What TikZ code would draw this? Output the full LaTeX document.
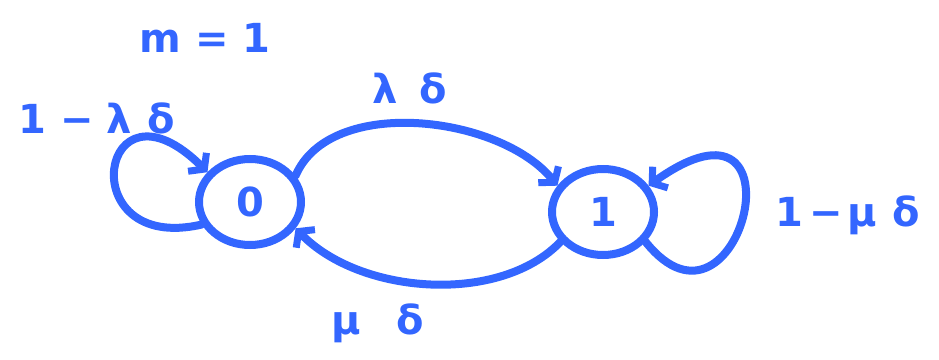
\documentclass[tikz,border=0pt]{standalone}
\usepackage{fontspec}
\setmainfont{DejaVu Sans}
\usetikzlibrary{arrows.meta,shapes.geometric}
\definecolor{pen}{HTML}{3366FF}
\tikzset{
  state/.style={draw=pen, line width=8pt, ellipse, minimum width=102pt, minimum height=86pt, inner sep=0pt, text=pen, font=\fontsize{40}{44}\selectfont\bfseries},
  edge/.style={draw=pen, line width=8pt, line cap=round, -{Straight Barb[length=10pt,width=26pt,line width=7pt]}},
  lbl/.style={text=pen, font=\fontsize{40}{46}\selectfont\bfseries, inner sep=0pt}
}
\begin{document}
\begin{tikzpicture}[x=1pt,y=-1pt]
\useasboundingbox (0,0) rectangle (939,359);
\node[state] (n0) at (250,202) {0};
\node[state] (n1) at (603,212) {1};
\draw[edge] (n0.30) .. controls (330,95) and (500,115) .. (n1.150);
\draw[edge] (n1.215) .. controls (500,305) and (360,295) .. (n0.-30);
\draw[edge] (n0.205) .. controls (70,255) and (100,65) .. (n0.145);
\draw[edge] (n1.-35) .. controls (740,360) and (810,70) .. (n1.30);
\node[lbl] (m) at (205,38) {m\hspace{14pt}=\hspace{14pt}1};
\node[lbl] (l0) at (97,118) {1\hspace{14pt}−\hspace{12pt}λ\hspace{16pt}δ};
\node[lbl] (l01) at (410,88) {λ\hspace{22pt}δ};
\node[lbl] (l1) at (848,215) {1\hspace{6pt}−\hspace{4pt}μ\hspace{16pt}δ};
\node[lbl] (l10) at (378,323) {μ\hspace{36pt}δ};
\end{tikzpicture}
\end{document}
